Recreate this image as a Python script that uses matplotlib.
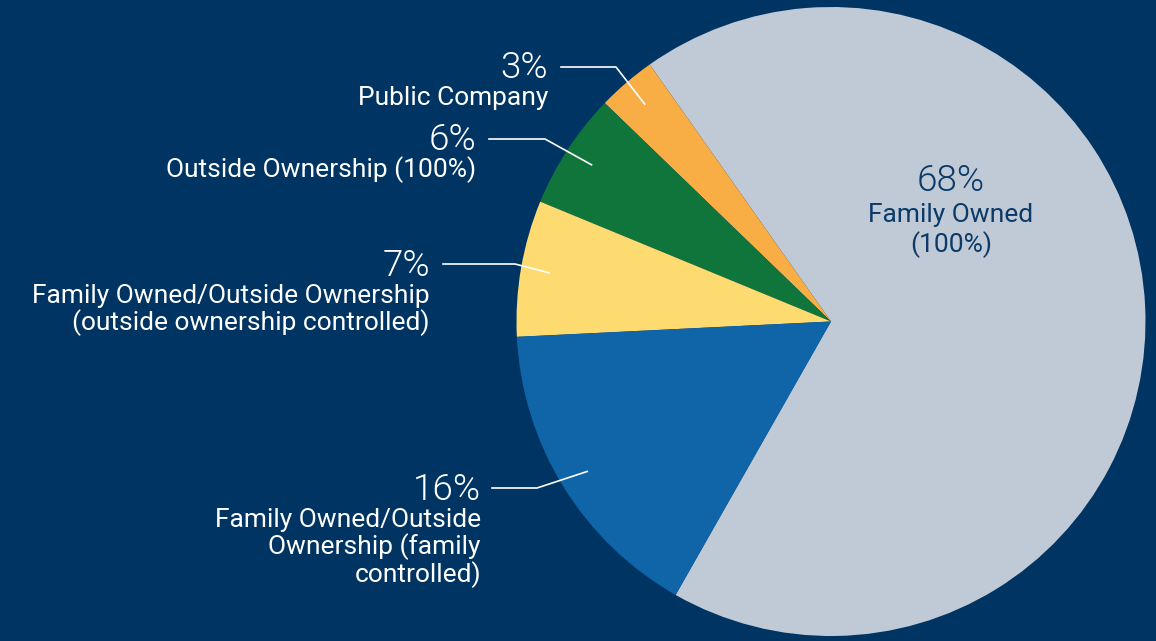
import numpy as np
import matplotlib
matplotlib.use("Agg")
import matplotlib.pyplot as plt
from matplotlib.lines import Line2D

categories = ["Family Owned\n(100%)", "Public Company", "Outside Ownership (100%)",
              "Family Owned/Outside Ownership\n(outside ownership controlled)",
              "Family Owned/Outside\nOwnership (family\ncontrolled)"]
values = [68, 3, 6, 7, 16]
pct_labels = ["68%", "3%", "6%", "7%", "16%"]
colors = ["#BFCAD6", "#F9AD45", "#0F753B", "#FEDB70", "#1065A8"]

BG = "#003462"
W, H = 1156, 641
fig = plt.figure(figsize=(W / 100, H / 100), dpi=100, facecolor=BG)
plt.rcParams['font.family'] = ['Roboto', 'DejaVu Sans']

cx, cy, R = 831, 321.5, 314.5
ax = fig.add_axes([(cx - R) / W, (H - cy - R) / H, 2 * R / W, 2 * R / H])
ax.set_facecolor(BG)
wedges, _ = ax.pie(values, colors=colors, startangle=240.4, counterclock=True,
                   radius=1.0, wedgeprops=dict(linewidth=0))
ax.set_xlim(-1, 1)
ax.set_ylim(-1, 1)
ax.set_aspect('equal')
ax.axis('off')

def fy(y):
    return (H - y) / H

def fx(x):
    return x / W

PCT_FS = 26.5
PCT_W = 300
LAB_FS = 19

# Big slice label (inside)
inner = "#0B3A68"
fig.text(fx(951), fy(191), pct_labels[0], ha='center', va='baseline', fontsize=PCT_FS,
         fontweight=PCT_W, color=inner)
fig.text(fx(951), fy(222), "Family Owned", ha='center', va='baseline', fontsize=LAB_FS, color=inner)
fig.text(fx(951), fy(252), "(100%)", ha='center', va='baseline', fontsize=LAB_FS, color=inner)

# Outside labels: (index, text right edge x, pct baseline y, line start x, elbow x, line y)
layout = [
    (1, 548, 78, 561, 616, 67),
    (2, 476, 150, 489, 545, 139),
    (3, 430, 276, 443, 515, 264),
    (4, 481, 500, 492, 537, 488),
]
line_h = 27.5
for idx, xr, yb, lx0, lx1, ly in layout:
    fig.text(fx(xr), fy(yb), pct_labels[idx], ha='right', va='baseline', fontsize=PCT_FS,
             fontweight=PCT_W, color='white')
    for k, line in enumerate(categories[idx].split("\n")):
        fig.text(fx(xr), fy(yb + 27 + k * line_h), line, ha='right', va='baseline',
                 fontsize=LAB_FS, color='white')
    w = wedges[idx]
    mid = np.deg2rad((w.theta1 + w.theta2) / 2)
    ex, ey = 0.91 * np.cos(mid), 0.91 * np.sin(mid)
    px, py = ax.transData.transform((ex, ey))
    pxf, pyf = fig.transFigure.inverted().transform((px, py))
    fig.add_artist(Line2D([fx(lx0), fx(lx1), pxf], [fy(ly), fy(ly), pyf],
                          color='white', linewidth=1.2, transform=fig.transFigure))

fig.savefig("out.png", dpi=100, facecolor=BG)
